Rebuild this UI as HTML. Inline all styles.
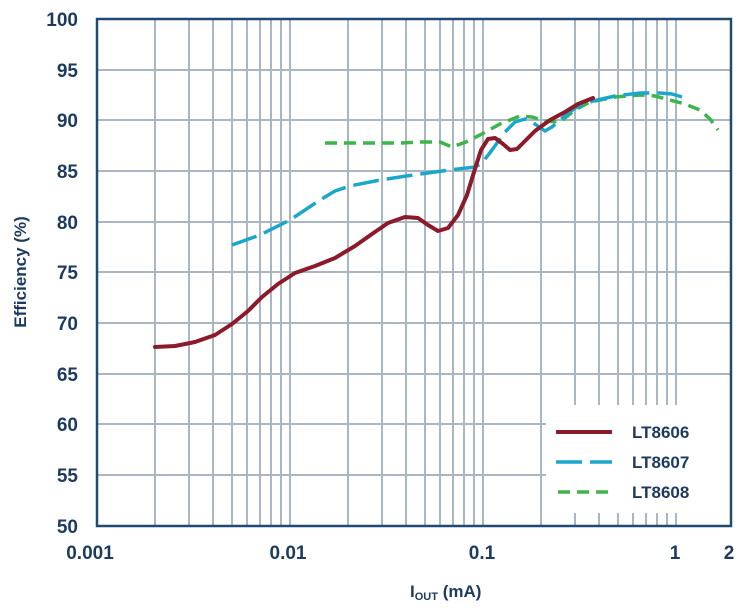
<!DOCTYPE html>
<html><head><style>
html,body{margin:0;padding:0;background:#fff;}
svg{display:block;font-family:"Liberation Sans",Arial,sans-serif;font-weight:bold;}
</style></head><body>
<svg width="743" height="610" viewBox="0 0 743 610" xmlns="http://www.w3.org/2000/svg">
<g stroke="#a9b7c2" stroke-width="2">
<!-- horizontal grid -->
<line x1="97" y1="70" x2="731" y2="70"/><line x1="97" y1="120" x2="731" y2="120"/>
<line x1="97" y1="171" x2="731" y2="171"/><line x1="97" y1="222" x2="731" y2="222"/>
<line x1="97" y1="272" x2="731" y2="272"/><line x1="97" y1="323" x2="731" y2="323"/>
<line x1="97" y1="374" x2="731" y2="374"/><line x1="97" y1="424" x2="731" y2="424"/>
<line x1="97" y1="475" x2="731" y2="475"/>
<!-- vertical grid -->
<line x1="155" y1="19" x2="155" y2="526"/><line x1="189" y1="19" x2="189" y2="526"/>
<line x1="213" y1="19" x2="213" y2="526"/><line x1="232" y1="19" x2="232" y2="526"/>
<line x1="247" y1="19" x2="247" y2="526"/><line x1="260" y1="19" x2="260" y2="526"/>
<line x1="271" y1="19" x2="271" y2="526"/><line x1="281" y1="19" x2="281" y2="526"/>
<line x1="290" y1="19" x2="290" y2="526"/>
<line x1="348" y1="19" x2="348" y2="526"/><line x1="382" y1="19" x2="382" y2="526"/>
<line x1="406" y1="19" x2="406" y2="526"/><line x1="425" y1="19" x2="425" y2="526"/>
<line x1="440" y1="19" x2="440" y2="526"/><line x1="453" y1="19" x2="453" y2="526"/>
<line x1="464" y1="19" x2="464" y2="526"/><line x1="474" y1="19" x2="474" y2="526"/>
<line x1="483" y1="19" x2="483" y2="526"/>
<line x1="541" y1="19" x2="541" y2="526"/><line x1="575" y1="19" x2="575" y2="526"/>
<line x1="599" y1="19" x2="599" y2="526"/><line x1="618" y1="19" x2="618" y2="526"/>
<line x1="633" y1="19" x2="633" y2="526"/><line x1="646" y1="19" x2="646" y2="526"/>
<line x1="657" y1="19" x2="657" y2="526"/><line x1="667" y1="19" x2="667" y2="526"/>
<line x1="676" y1="19" x2="676" y2="526"/>
</g>
<!-- legend box -->
<rect x="546" y="405" width="184" height="108" fill="#fff"/>
<!-- curves -->
<polyline fill="none" stroke="#3cb54a" stroke-width="3.5" stroke-dasharray="12,7" points="325,143 360,143 400,143 420,142 440,142 452,147 466,142 480,135 500,124 520,116 532,117 545,121 560,122 575,110 590,102 615,97 640,95 655,96 670,100 685,104 700,110 710,119 718,130"/>
<polyline fill="none" stroke="#1ba6cc" stroke-width="3.5" stroke-dasharray="26,8" stroke-linejoin="round" points="232,245 260,235 290,220 320,200 335,191 350,186 380,180 420,174 450,170 475,167 482,163 492,150 505,132 515,122 525,119 535,124 545,131 552,127 560,120 575,108 593,101 615,96 640,93 660,93 672,94 682,97"/>
<polyline fill="none" stroke="#8b1a2b" stroke-width="4" stroke-linejoin="round" stroke-linecap="round" points="155,347 175,346 195,342 215,335 232,324 248,311 262,297 278,284 295,273 315,266 335,258 355,246 372,234 388,223 405,217 418,218 428,225 438,231 448,228 458,215 467,195 474,172 481,150 488,139 495,138 503,144 510,150 517,149 525,141 535,131 550,120 565,112 578,104 593,98"/>
<!-- axes -->
<rect x="97" y="19" width="634" height="507" fill="none" stroke="#1f4a72" stroke-width="2.5"/>
<!-- legend -->
<line x1="556" y1="432" x2="612" y2="432" stroke="#8b1a2b" stroke-width="4"/>
<line x1="556" y1="462" x2="612" y2="462" stroke="#1ba6cc" stroke-width="3.5" stroke-dasharray="26,8"/>
<line x1="558" y1="492" x2="612" y2="492" stroke="#3cb54a" stroke-width="3.5" stroke-dasharray="12,7"/>
<g fill="#1d3a5f" font-size="17">
<text x="632" y="438">LT8606</text>
<text x="632" y="468">LT8607</text>
<text x="632" y="498">LT8608</text>
</g>
<!-- y labels -->
<g fill="#1d3a5f" font-size="19" text-anchor="end">
<text x="78" y="26">100</text><text x="78" y="77">95</text><text x="78" y="127">90</text>
<text x="78" y="178">85</text><text x="78" y="229">80</text><text x="78" y="279">75</text>
<text x="78" y="330">70</text><text x="78" y="381">65</text><text x="78" y="431">60</text>
<text x="78" y="482">55</text><text x="78" y="533">50</text>
</g>
<g fill="#1d3a5f" font-size="19" text-anchor="middle">
<text x="90" y="559">0.001</text><text x="288" y="559">0.01</text><text x="482" y="559">0.1</text>
<text x="675" y="559">1</text><text x="729" y="559">2</text>
</g>
<text x="410" y="597" fill="#1d3a5f" font-size="17">I<tspan font-size="11" dy="3">OUT</tspan><tspan dy="-3"> (mA)</tspan></text>
<text transform="translate(26,272) rotate(-90)" fill="#1d3a5f" font-size="17" text-anchor="middle">Efficiency (%)</text>
</svg>
</body></html>
